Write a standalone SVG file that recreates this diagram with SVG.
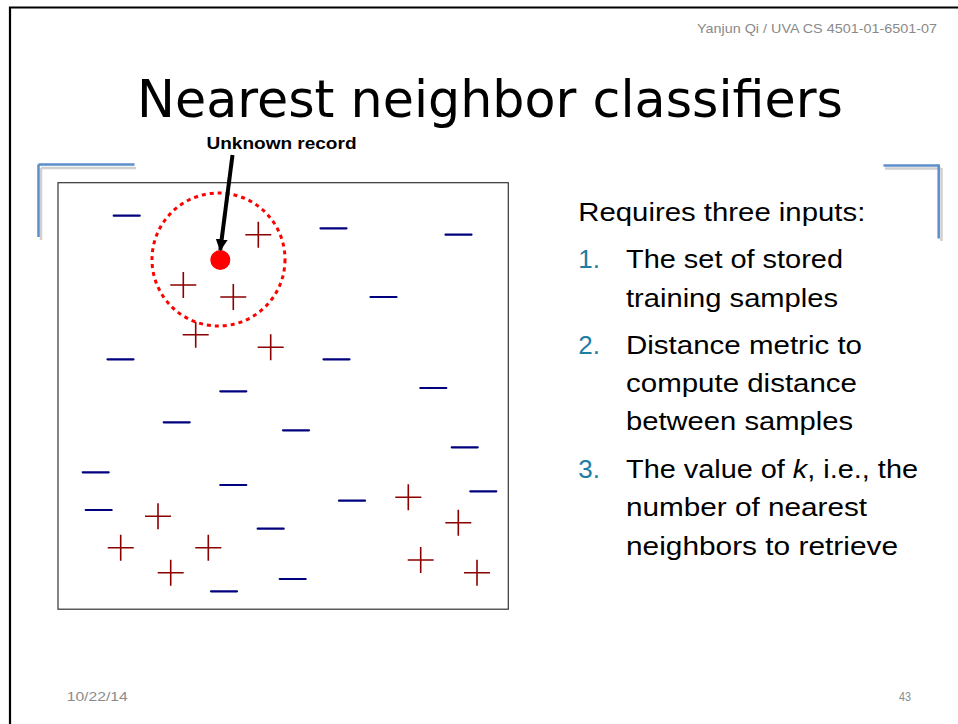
<svg xmlns="http://www.w3.org/2000/svg" width="958" height="724" viewBox="0 0 958 724">
<defs>
<style>
.hdr{font-family:"Liberation Sans","Open Sans",sans-serif;font-size:13px;fill:#8a8a8a}
.title{font-family:"DejaVu Sans","Liberation Sans",sans-serif;font-size:51px;fill:#000}
.lbl{font-family:"Liberation Sans",Arial,sans-serif;font-size:16px;font-weight:bold;fill:#000}
.body{font-family:"Liberation Sans","Open Sans",sans-serif;font-size:26px;fill:#000}
.num{fill:#1f7ea3}
.minus{stroke:#00007f;stroke-width:2.2;stroke-linecap:round}
.plus{stroke:#8b0000;stroke-width:1.6;fill:none}
.bracket{stroke:#5b8ecb;stroke-width:2.5;fill:none}
.shadow{stroke:#d0d0d0;stroke-width:2.5;fill:none}
</style>
<marker id="ah" viewBox="0 0 10 10" refX="9" refY="5" markerWidth="3" markerHeight="3" orient="auto">
<path d="M0,0 L10,5 L0,10 z" fill="#000"/>
</marker>
<g id="m"><line class="minus" x1="-13" y1="0" x2="13" y2="0"/></g>
<g id="p"><path class="plus" d="M-13,0 H13 M0,-13 V13"/></g>
</defs>
<rect width="958" height="724" fill="#fff"/>
<path d="M10,724 V7.5 H958" stroke="#000" stroke-width="2.2" fill="none"/>
<text class="hdr" x="697" y="33" textLength="240" lengthAdjust="spacingAndGlyphs">Yanjun Qi / UVA CS 4501-01-6501-07</text>
<text class="title" x="137" y="117" textLength="706" lengthAdjust="spacingAndGlyphs">Nearest neighbor classifiers</text>
<g id="brackets">
<path class="shadow" d="M41,168 H136 M41,168 V240"/>
<path class="bracket" d="M38.5,164.5 H134.5 M38.5,164.5 V237"/>
<path class="shadow" d="M885,168.5 H941 M941.5,168 V241"/>
<path class="bracket" d="M883.5,165.5 H938.7 V238.5"/>
</g>
<g id="plot">
<rect x="58" y="182.7" width="450.3" height="426.5" fill="none" stroke="#333" stroke-width="1.2"/>
<g id="minuses">
<use href="#m" x="126.7" y="215.7"/>
<use href="#m" x="333.5" y="228.3"/>
<use href="#m" x="458.5" y="234.7"/>
<use href="#m" x="383.5" y="297"/>
<use href="#m" x="120.5" y="359.3"/>
<use href="#m" x="336.5" y="359.3"/>
<use href="#m" x="233.3" y="391.3"/>
<use href="#m" x="433.3" y="388"/>
<use href="#m" x="176.7" y="422.3"/>
<use href="#m" x="296" y="430.3"/>
<use href="#m" x="464.7" y="447.3"/>
<use href="#m" x="95.7" y="472.3"/>
<use href="#m" x="233.3" y="485"/>
<use href="#m" x="352" y="500.7"/>
<use href="#m" x="483.3" y="491.3"/>
<use href="#m" x="98.7" y="510"/>
<use href="#m" x="270.7" y="528.7"/>
<use href="#m" x="292.7" y="579"/>
<use href="#m" x="224" y="591.3"/>
</g>
<g id="pluses">
<use href="#p" x="258.3" y="234.7"/>
<use href="#p" x="183.3" y="285"/>
<use href="#p" x="233.3" y="297"/>
<use href="#p" x="195.7" y="334.7"/>
<use href="#p" x="270.7" y="347.3"/>
<use href="#p" x="158" y="516.3"/>
<use href="#p" x="120.7" y="547.7"/>
<use href="#p" x="208.3" y="547.7"/>
<use href="#p" x="170.7" y="572.7"/>
<use href="#p" x="408.3" y="497.3"/>
<use href="#p" x="458.3" y="522.7"/>
<use href="#p" x="420.7" y="560"/>
<use href="#p" x="477" y="572.7"/>
</g>
<g id="unknown">
<circle cx="218.5" cy="259.5" r="66.5" fill="none" stroke="#f00" stroke-width="3" stroke-dasharray="4,4"/>
<circle cx="220.3" cy="260" r="10" fill="#f00"/>
</g>
</g>
<g id="connectors">
<line x1="232.5" y1="155" x2="220.3" y2="250" stroke="#000" stroke-width="4" marker-end="url(#ah)"/>
</g>
<text class="lbl" x="206.5" y="149" textLength="150" lengthAdjust="spacingAndGlyphs">Unknown record</text>
<g id="list">
<text class="body" x="578.3" y="220.7" textLength="287" lengthAdjust="spacingAndGlyphs">Requires three inputs:</text>
<text class="body num" x="578.3" y="268.3">1.</text>
<text class="body" x="626" y="268.3" textLength="217" lengthAdjust="spacingAndGlyphs">The set of stored</text>
<text class="body" x="626" y="306.7" textLength="212" lengthAdjust="spacingAndGlyphs">training samples</text>
<text class="body num" x="578.3" y="354">2.</text>
<text class="body" x="626" y="354" textLength="236" lengthAdjust="spacingAndGlyphs">Distance metric to</text>
<text class="body" x="626" y="391.7" textLength="231" lengthAdjust="spacingAndGlyphs">compute distance</text>
<text class="body" x="626" y="430" textLength="227" lengthAdjust="spacingAndGlyphs">between samples</text>
<text class="body num" x="578.3" y="477.7">3.</text>
<text class="body" x="626" y="477.7" textLength="292" lengthAdjust="spacingAndGlyphs">The value of <tspan font-style="italic">k</tspan>, i.e., the</text>
<text class="body" x="626" y="516" textLength="241" lengthAdjust="spacingAndGlyphs">number of nearest</text>
<text class="body" x="626" y="555" textLength="272" lengthAdjust="spacingAndGlyphs">neighbors to retrieve</text>
</g>
<text class="hdr" x="66.7" y="700.7" textLength="61" lengthAdjust="spacingAndGlyphs">10/22/14</text>
<text class="hdr" x="899" y="700.7" textLength="12" lengthAdjust="spacingAndGlyphs">43</text>
</svg>
